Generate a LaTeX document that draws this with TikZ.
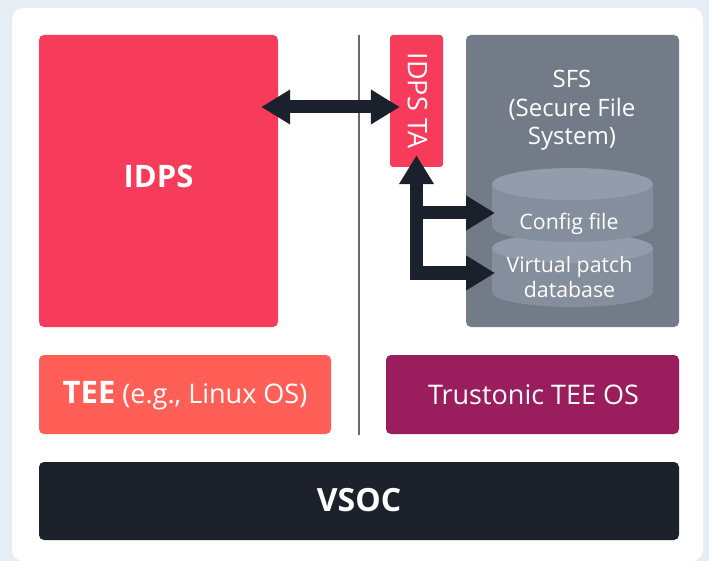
\documentclass[tikz,border=0pt]{standalone}
\usepackage{fontspec}
\setmainfont{Open Sans}
\usepackage{xcolor}
\usetikzlibrary{positioning, arrows.meta}

\definecolor{bgblue}{HTML}{E6EDF5}
\definecolor{idpsred}{HTML}{F73B5A}
\definecolor{teesalmon}{HTML}{FF5F57}
\definecolor{tosplum}{HTML}{9A1D5E}
\definecolor{sfsgray}{HTML}{737B89}
\definecolor{cyltop}{HTML}{939CAB}
\definecolor{cylbody}{HTML}{858E9C}
\definecolor{vsocdark}{HTML}{1C212B}
\definecolor{arrowdark}{HTML}{1B212C}
\definecolor{divgray}{HTML}{666A70}

\begin{document}
\begin{tikzpicture}[
    x=1pt, y=-1pt,
    block/.style={rectangle, rounded corners=5pt, inner sep=0pt},
    txt/.style={text=white, inner sep=0pt, font=\fontsize{27}{31}\selectfont},
    boldtxt/.style={text=white, inner sep=0pt, font=\fontsize{31}{35}\selectfont\bfseries},
    cyltxt/.style={text=white, inner sep=0pt, align=center, font=\fontsize{21.3}{25}\selectfont},
    fat/.style={draw=arrowdark, line width=13pt, line join=miter, >={Triangle[length=29pt, width=33pt]}}
]

% Фон и белая панель
\useasboundingbox (0,0) rectangle (709,561);
\fill[bgblue] (0,0) rectangle (709,561);
\fill[white, rounded corners=11pt] (12,8) rectangle (703,561);

% Блоки
\node[block, fill=idpsred, minimum width=239pt, minimum height=292pt] (idps) at (158.5,181) {};
\node[block, fill=idpsred, rounded corners=3pt, minimum width=53pt, minimum height=132pt] (tabox) at (416.5,101) {};
\node[block, fill=sfsgray, minimum width=213pt, minimum height=292pt] (sfs) at (572.5,181) {};
\node[block, fill=teesalmon, minimum width=292pt, minimum height=79pt] (tee) at (185,394.5) {};
\node[block, fill=tosplum, minimum width=293pt, minimum height=79pt] (tos) at (532.5,394.5) {};
\node[block, fill=vsocdark, minimum width=640pt, minimum height=78pt] (vsoc) at (359,501) {};

% Разделитель
\draw[divgray, line width=1.5pt] (359,35) -- (359,435);

% Цилиндры внутри SFS (нижний рисуется первым)
\foreach \ytop/\ybot/\ry in {248/292/15, 184/226/16} {
    \fill[cylbody] (492,\ytop) -- (492,\ybot) arc[start angle=180, end angle=360, x radius=80.5pt, y radius=\ry pt] -- (653,\ytop) -- cycle;
    \fill[cyltop] (572.5,\ytop) ellipse[x radius=80.5pt, y radius=\ry pt];
}

% Подписи
\node[boldtxt, anchor=base] (idpslbl) at (158.5,188) {IDPS};
\node[txt, rotate=-90] (talbl) at (417.5,100.5) {IDPS TA};
\node[txt, align=center, font=\fontsize{24}{28.5}\selectfont] (sfslbl) at (572,110.5) {SFS\\(Secure File\\System)};
\node[cyltxt, anchor=base] (cfg) at (569,230) {Config file};
\node[cyltxt] (db) at (569.5,277.5) {Virtual patch\\database};
\node[txt, anchor=base] (teelbl) at (185,403) {{\fontsize{31}{35}\selectfont\bfseries TEE} (e.g., Linux OS)};
\node[txt, anchor=base] (toslbl) at (533.5,404) {Trustonic TEE OS};
\node[boldtxt, anchor=base, font=\fontsize{32}{36}\selectfont\bfseries] (vsoclbl) at (359,511) {VSOC};

% Стрелки
\coordinate (bothy) at (0,107);
\coordinate (cfgin) at (495,213);
\coordinate (dbin) at (495,273);
\draw[fat, <->, shorten <=-17pt, shorten >=-10pt] (idps.east |- bothy) -- (tabox.west |- bothy);
\draw[fat, <->, shorten <=-12pt] (tabox.south) |- (dbin);
\draw[fat, ->] (tabox.south |- cfgin) -- (cfgin);

\end{tikzpicture}
\end{document}
